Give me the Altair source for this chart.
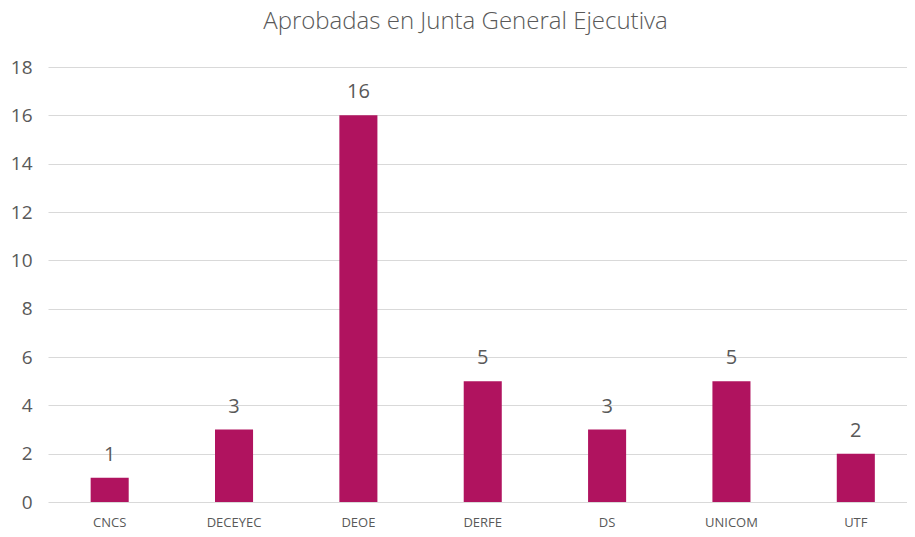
import altair as alt
import pandas as pd

categories = ["CNCS", "DECEYEC", "DEOE", "DERFE", "DS", "UNICOM", "UTF"]
values = [1, 3, 16, 5, 3, 5, 2]

df = pd.DataFrame({"cat": categories, "val": values})

FONT = "Open Sans"
GRAY = "#595959"

base = alt.Chart(df).encode(
    x=alt.X("cat:N", sort=categories, title=None,
            scale=alt.Scale(paddingInner=0.694, paddingOuter=0.333, align=0.515, round=False,
                            range=[0, 867]),
            axis=alt.Axis(labelAngle=0, domain=False, ticks=False, labelPadding=14,
                          labelFontSize=13, labelColor=GRAY, labelFont=FONT, grid=False)),
    y=alt.Y("val:Q", title=None,
            scale=alt.Scale(domain=[0, 18]),
            axis=alt.Axis(values=list(range(0, 19, 2)), domain=False, ticks=False,
                          labelPadding=16, labelFontSize=19, labelColor=GRAY, labelFont=FONT,
                          gridColor="#D9D9D9", gridWidth=1.2)),
)

bars = base.mark_bar(color="#B0135F")
labels = base.mark_text(baseline="alphabetic", dy=-17, fontSize=20, color=GRAY, font=FONT).encode(
    text="val:Q")

chart = (bars + labels).properties(
    width=859, height=435,
    autosize=alt.AutoSizeParams(type="none"),
    padding={"left": 40, "top": 59, "right": 0, "bottom": 33},
    title=alt.TitleParams("Aprobadas en Junta General Ejecutiva", fontSize=24, font=FONT,
                          fontWeight=300, color=GRAY, anchor="middle", offset=24, dx=-12),
).configure_view(stroke=None)

chart.save("out.html", embed_options={"renderer": "svg", "actions": False})
